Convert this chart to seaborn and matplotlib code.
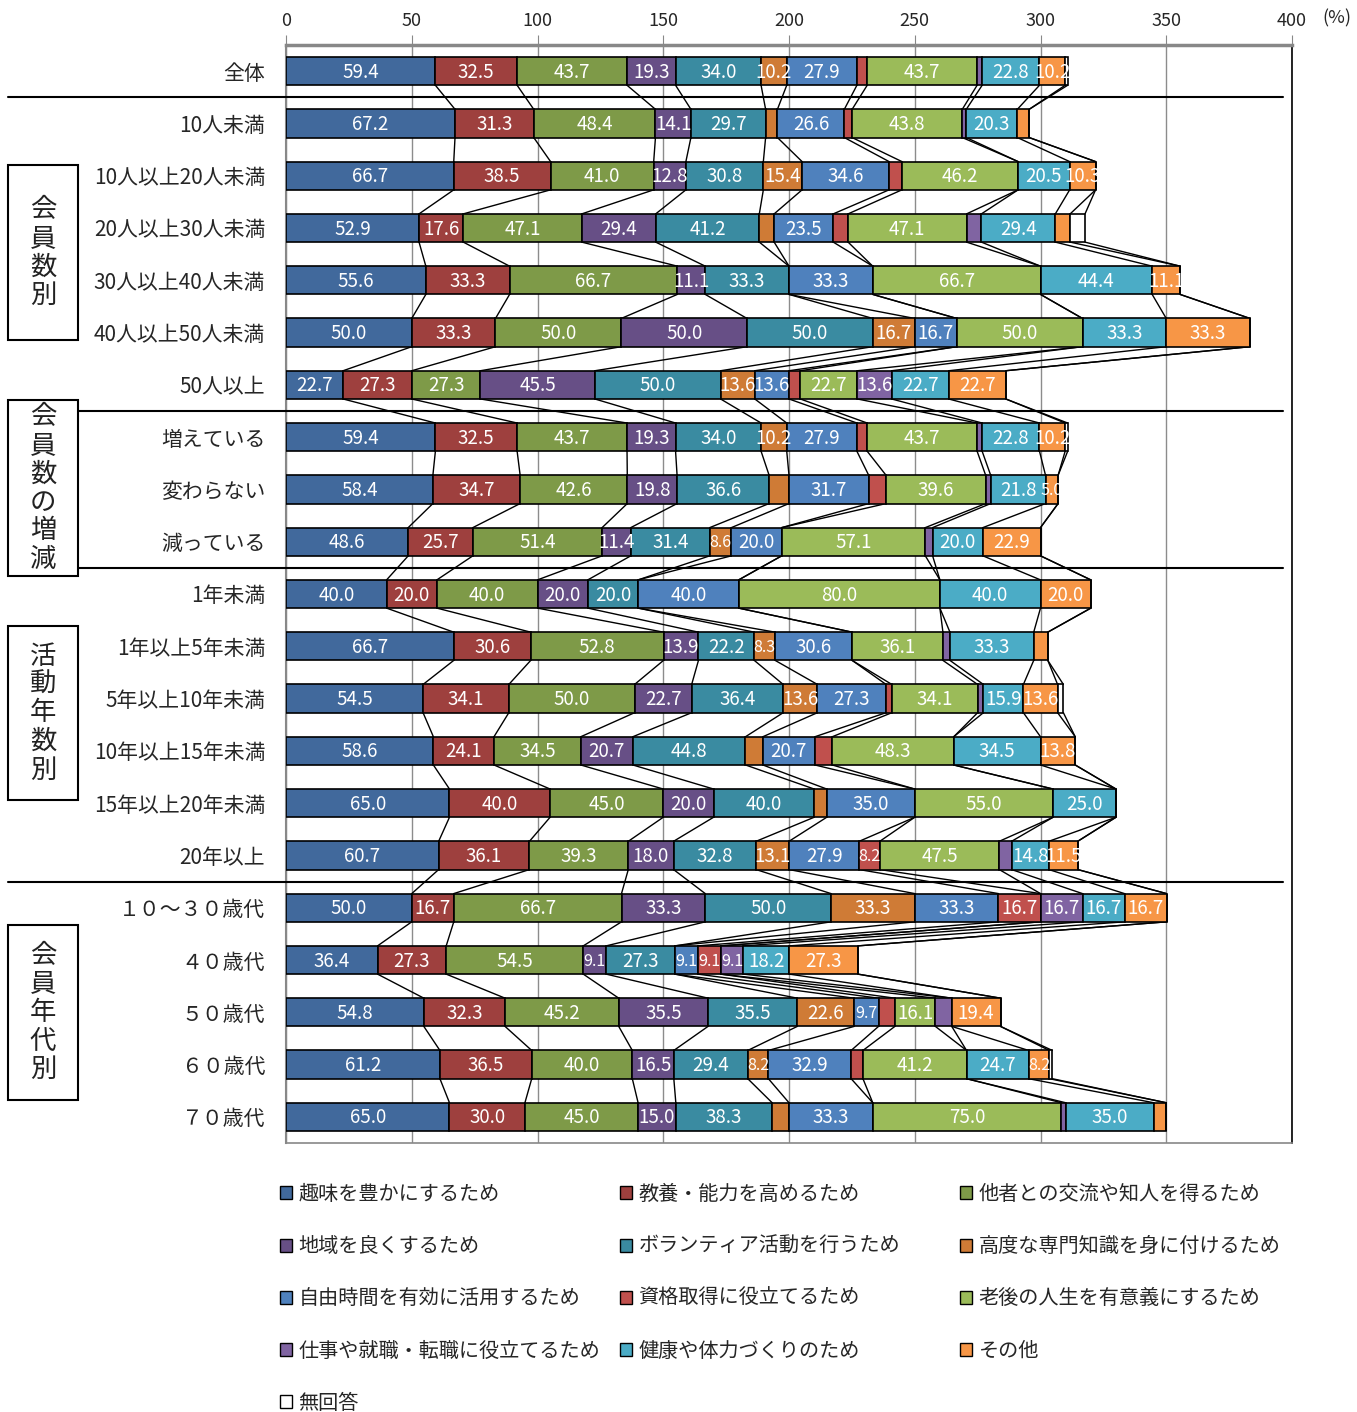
import numpy as np
import pandas as pd
import matplotlib
matplotlib.use("Agg")
import matplotlib.pyplot as plt
import matplotlib.transforms as mtransforms
from matplotlib.patches import Rectangle, Patch
from matplotlib.lines import Line2D
import seaborn as sns

# 行（カテゴリ）
categories = [
    "全体",
    "10人未満", "10人以上20人未満", "20人以上30人未満", "30人以上40人未満",
    "40人以上50人未満", "50人以上",
    "増えている", "変わらない", "減っている",
    "1年未満", "1年以上5年未満", "5年以上10年未満", "10年以上15年未満",
    "15年以上20年未満", "20年以上",
    "１０～３０歳代", "４０歳代", "５０歳代", "６０歳代", "７０歳代",
]

series_names = [
    "趣味を豊かにするため", "教養・能力を高めるため", "他者との交流や知人を得るため",
    "地域を良くするため", "ボランティア活動を行うため", "高度な専門知識を身に付けるため",
    "自由時間を有効に活用するため", "資格取得に役立てるため", "老後の人生を有意義にするため",
    "仕事や就職・転職に役立てるため", "健康や体力づくりのため", "その他", "無回答",
]

# 系列ごとの値（%）
hobby      = [59.4, 67.2, 66.7, 52.9, 55.6, 50.0, 22.7, 59.4, 58.4, 48.6, 40.0, 66.7, 54.5, 58.6, 65.0, 60.7, 50.0, 36.4, 54.8, 61.2, 65.0]
culture    = [32.5, 31.3, 38.5, 17.6, 33.3, 33.3, 27.3, 32.5, 34.7, 25.7, 20.0, 30.6, 34.1, 24.1, 40.0, 36.1, 16.7, 27.3, 32.3, 36.5, 30.0]
social     = [43.7, 48.4, 41.0, 47.1, 66.7, 50.0, 27.3, 43.7, 42.6, 51.4, 40.0, 52.8, 50.0, 34.5, 45.0, 39.3, 66.7, 54.5, 45.2, 40.0, 45.0]
community  = [19.3, 14.1, 12.8, 29.4, 11.1, 50.0, 45.5, 19.3, 19.8, 11.4, 20.0, 13.9, 22.7, 20.7, 20.0, 18.0, 33.3, 9.1, 35.5, 16.5, 15.0]
volunteer  = [34.0, 29.7, 30.8, 41.2, 33.3, 50.0, 50.0, 34.0, 36.6, 31.4, 20.0, 22.2, 36.4, 44.8, 40.0, 32.8, 50.0, 27.3, 35.5, 29.4, 38.3]
expertise  = [10.2, 4.7, 15.4, 5.9, 0.0, 16.7, 13.6, 10.2, 7.9, 8.6, 0.0, 8.3, 13.6, 6.9, 5.0, 13.1, 33.3, 0.0, 22.6, 8.2, 6.7]
free_time  = [27.9, 26.6, 34.6, 23.5, 33.3, 16.7, 13.6, 27.9, 31.7, 20.0, 40.0, 30.6, 27.3, 20.7, 35.0, 27.9, 33.3, 9.1, 9.7, 32.9, 33.3]
license_   = [4.1, 3.1, 5.1, 5.9, 0.0, 0.0, 4.5, 4.1, 6.9, 0.0, 0.0, 0.0, 2.3, 6.9, 0.0, 8.2, 16.7, 9.1, 6.5, 4.7, 0.0]
later_life = [43.7, 43.8, 46.2, 47.1, 66.7, 50.0, 22.7, 43.7, 39.6, 57.1, 80.0, 36.1, 34.1, 48.3, 55.0, 47.5, 0.0, 0.0, 16.1, 41.2, 75.0]
career     = [2.0, 1.6, 0.0, 5.9, 0.0, 0.0, 13.6, 2.0, 2.0, 2.9, 0.0, 2.8, 2.3, 0.0, 0.0, 4.9, 16.7, 9.1, 6.5, 0.0, 1.7]
health     = [22.8, 20.3, 20.5, 29.4, 44.4, 33.3, 22.7, 22.8, 21.8, 20.0, 40.0, 33.3, 15.9, 34.5, 25.0, 14.8, 16.7, 18.2, 0.0, 24.7, 35.0]
other      = [10.2, 4.7, 10.3, 5.9, 11.1, 33.3, 22.7, 10.2, 5.0, 22.9, 20.0, 5.6, 13.6, 13.8, 0.0, 11.5, 16.7, 27.3, 19.4, 8.2, 5.0]
no_answer  = [1.0, 0.0, 0.0, 5.9, 0.0, 0.0, 0.0, 1.0, 0.0, 0.0, 0.0, 0.0, 2.3, 0.0, 0.0, 0.0, 0.0, 0.0, 0.0, 1.2, 0.0]

x_ticks = [0, 50, 100, 150, 200, 250, 300, 350, 400]

groups = [
    ("会員数別", 165, 340),
    ("会員数の増減", 400, 576),
    ("活動年数別", 626, 800),
    ("会員年代別", 925, 1100),
]
separators = [0.5, 6.5, 9.5, 15.5]

colors = [
    "#41699C", "#9E403E", "#7E9A48", "#674F86", "#3A8BA1", "#CF7B36",
    "#4F81BD", "#C0504D", "#9BBB59", "#8064A2", "#4BACC6", "#F79646", "#FFFFFF",
]

values = np.array([hobby, culture, social, community, volunteer, expertise, free_time,
                   license_, later_life, career, health, other, no_answer])  # (13, 21)
lefts = np.vstack([np.zeros(len(categories)), np.cumsum(values, axis=0)[:-1]])
rights = np.cumsum(values, axis=0)

df = pd.DataFrame(values.T, columns=series_names)
df["cat"] = categories

sns.set_style("white")
plt.rcParams["font.family"] = ["Noto Sans CJK JP", "DejaVu Sans"]

W, H = 1357, 1412
fig = plt.figure(figsize=(W / 100, H / 100), dpi=100)
ax = fig.add_axes([286 / W, 1 - 1143 / H, (1292 - 286) / W, (1143 - 45) / H])

bar_h = 0.54
for j, name in enumerate(series_names):
    sns.barplot(data=df, x=name, y="cat", order=categories, left=lefts[j],
                color=colors[j], saturation=1, edgecolor="black", linewidth=1.2,
                width=bar_h, errorbar=None, ax=ax, zorder=3)

# 系列線
for j in range(len(series_names)):
    for i in range(len(categories) - 1):
        ax.plot([rights[j, i], rights[j, i + 1]], [i + bar_h / 2, i + 1 - bar_h / 2],
                color="black", lw=1, zorder=2)

# データラベル（幅の狭い区間は少し小さく）
extra = {("変わらない", "その他")}
for j, name in enumerate(series_names):
    for i, cat in enumerate(categories):
        v = values[j, i]
        if v >= 8 or (cat, name) in extra:
            ax.text(lefts[j, i] + v / 2, i + 0.02, f"{v:.1f}", ha="center", va="center",
                    color="white", fontsize=13.5 if v >= 10 else 11.5, zorder=5)

ax.set_xlim(0, 400)
ax.set_ylim(len(categories) - 0.5, -0.5)
ax.set_xlabel("")
ax.set_ylabel("")
ax.xaxis.tick_top()
ax.set_xticks(x_ticks)
ax.set_xticklabels([str(t) for t in x_ticks], fontsize=13)
ax.tick_params(axis="x", length=7, color="#888888", pad=4, direction="out")
ax.grid(axis="x", color="#8c8c8c", lw=1)
ax.set_axisbelow(True)

ax.set_yticks(range(len(categories)))
ax.set_yticklabels(categories, fontsize=15)
ax.set_yticks(np.arange(0.5, len(categories) - 0.5, 1), minor=True)
ax.tick_params(axis="y", which="major", length=0, pad=15)
ax.tick_params(axis="y", which="minor", length=5, color="#888888", direction="out")

for s in ["top", "left"]:
    ax.spines[s].set_color("#888888")
ax.spines["top"].set_linewidth(2.5)
ax.spines["left"].set_linewidth(1.5)
ax.spines["right"].set_color("black")
ax.spines["right"].set_linewidth(1.2)
ax.spines["bottom"].set_color("#888888")
ax.spines["bottom"].set_linewidth(1.2)

ax.annotate("(%)", xy=(400, -0.5), xycoords="data", xytext=(22, 19),
            textcoords="offset points", ha="left", va="center", fontsize=13,
            annotation_clip=False)

# 区切り線
trans = mtransforms.blended_transform_factory(fig.transFigure, ax.transData)
for y in separators:
    fig.add_artist(Line2D([8 / W, 1283 / W], [y, y], transform=trans,
                          color="black", lw=1.5, zorder=4))

# グループ見出し（縦書き）
for label, top, bottom in groups:
    fig.add_artist(Rectangle((8 / W, 1 - bottom / H), 70 / W, (bottom - top) / H,
                             transform=fig.transFigure, facecolor="white",
                             edgecolor="black", lw=1.5, zorder=6))
    cy = (top + bottom) / 2
    n = len(label)
    for k, ch in enumerate(label):
        y = cy + (k - (n - 1) / 2) * 28.5
        fig.text(43 / W, 1 - y / H, ch, ha="center", va="center", fontsize=19,
                 color="#222222", zorder=7)

# 凡例（3列、行方向の並び）
handles = [Patch(facecolor=c, edgecolor="black", lw=1) for c in colors]
col_x = [280, 620, 960]
for c in range(3):
    idx = list(range(c, len(series_names), 3))
    fig.legend([handles[k] for k in idx], [series_names[k] for k in idx],
               loc="upper left", bbox_to_anchor=(col_x[c] / W, 1 - 1184 / H),
               frameon=False, fontsize=14.5, ncol=1, borderpad=0, borderaxespad=0,
               handlelength=0.62, handleheight=0.62, handletextpad=0.3,
               labelspacing=1.55)

fig.savefig("out.png", dpi=100)
